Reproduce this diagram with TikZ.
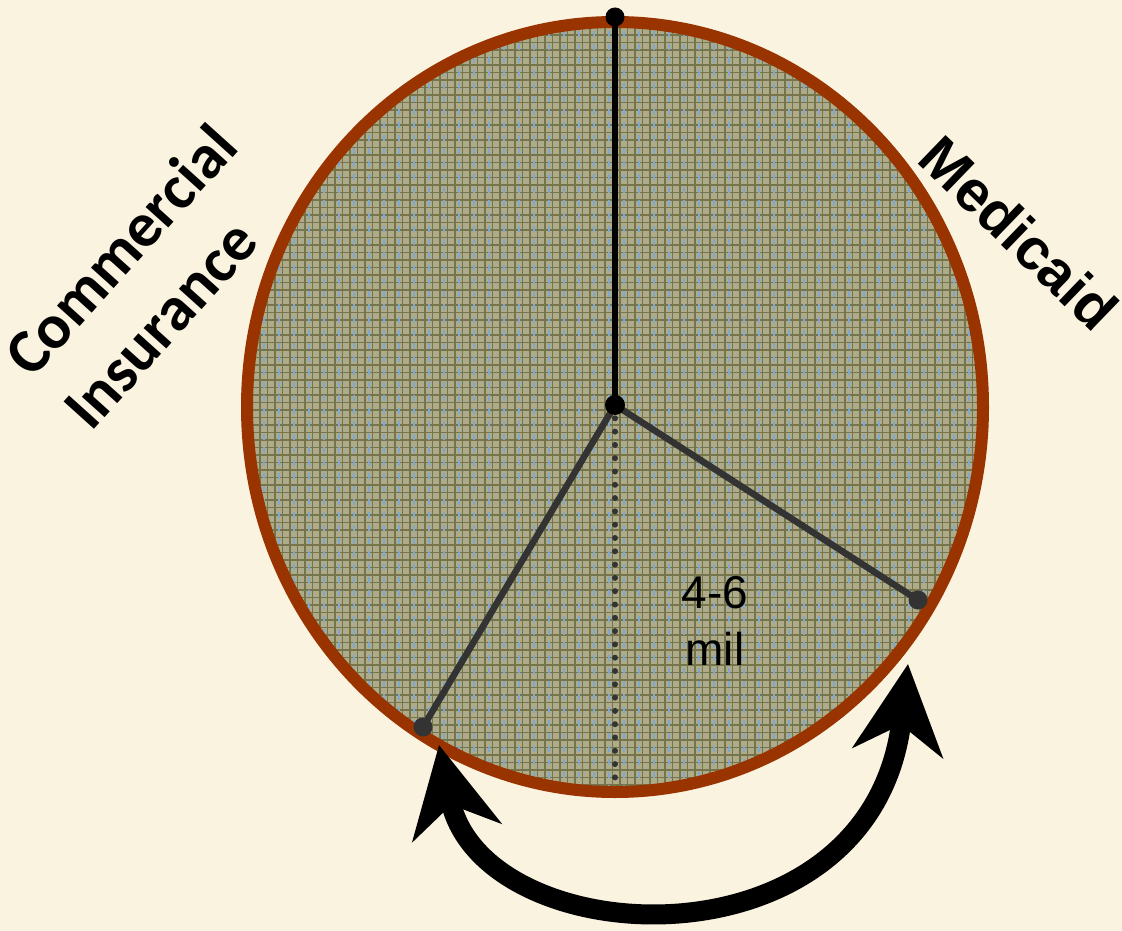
\documentclass[tikz,border=0pt]{standalone}
\usepackage{fontspec}
\setmainfont{Liberation Sans}
\newfontfamily\carlito{Carlito}
\usetikzlibrary{arrows.meta}
\definecolor{bg}{HTML}{FAF3E0}
\definecolor{rim}{HTML}{993300}
\definecolor{khaki}{HTML}{ADAB89}
\definecolor{gridl}{HTML}{75744A}
\definecolor{plaidblue}{HTML}{7FA8D0}
\definecolor{spoke}{HTML}{333333}
\begin{document}
\begin{tikzpicture}[x=1pt,y=-1pt,
  spokeline/.style={spoke, line width=6.5pt},
  mainline/.style={black, line width=6.5pt},
  enddot/.style={circle, fill=spoke, inner sep=0pt, minimum size=19pt},
  blackdot/.style={circle, fill=black, inner sep=0pt, minimum size=19pt},
  dotline/.style={spoke, line width=6pt, line cap=round, dash pattern=on 0pt off 13.3pt},
  bigarrow/.style={line width=20pt, arrows={Stealth[length=89pt,width=90pt,inset=28pt]-Stealth[length=89pt,width=90pt,inset=28pt]}},
  label/.style={font=\bfseries\fontsize{58}{68}\selectfont, align=center, inner sep=0pt},
  clabel/.style={font=\carlito\bfseries\fontsize{63}{72}\selectfont, inner sep=0pt, anchor=base west, rotate=48}
]
\fill[bg] (0,0) rectangle (1122,931);
\useasboundingbox (0,0) rectangle (1122,931);

% pie body
\fill[khaki] (615,407) ellipse [x radius=368, y radius=385];
\begin{scope}
  \clip (615,407) ellipse [x radius=368, y radius=385];
  \foreach \x in {245,252.5,...,986} \draw[gridl, line width=1.2pt] (\x,18) -- (\x,796);
  \foreach \y in {20,27.5,...,796} \draw[gridl, line width=1.2pt] (244,\y) -- (986,\y);
  \foreach \x in {249,264,...,986} \draw[plaidblue, line width=2.2pt, dash pattern=on 6pt off 7pt] (\x,18) -- (\x,796);
\end{scope}
\draw[rim, line width=12pt] (615,407) ellipse [x radius=368, y radius=385];

% points
\coordinate (c) at (615,405);
\coordinate (bot) at (615,790);
\node[blackdot] (top) at (615,17) {};
\node[enddot] (lft) at (423,727) {};
\node[enddot] (rgt) at (918,600) {};

\draw[dotline] (c) -- (bot);
\draw[spokeline] (c) -- (lft.center);
\draw[spokeline] (c) -- (rgt.center);
\draw[mainline] (c) -- (top.center);
\node[blackdot, minimum size=20pt] (ctr) at (c) {};

% arrow
\coordinate (ltip) at (439,745);
\coordinate (rtip) at (908,664);
\draw[bigarrow] (ltip) .. controls (482,955) and (872,975) .. (rtip);

% labels
\node[clabel] (comm) at (32,380) {Commercial};
\node[clabel] (ins) at (91,433) {Insurance};
\node[label, rotate=-44] (med) at (1019,233) {Medicaid};
\node[font=\fontsize{46}{57}\selectfont, align=center, inner sep=0pt] (mil) at (715,621) {4-6\\mil};
\end{tikzpicture}
\end{document}
